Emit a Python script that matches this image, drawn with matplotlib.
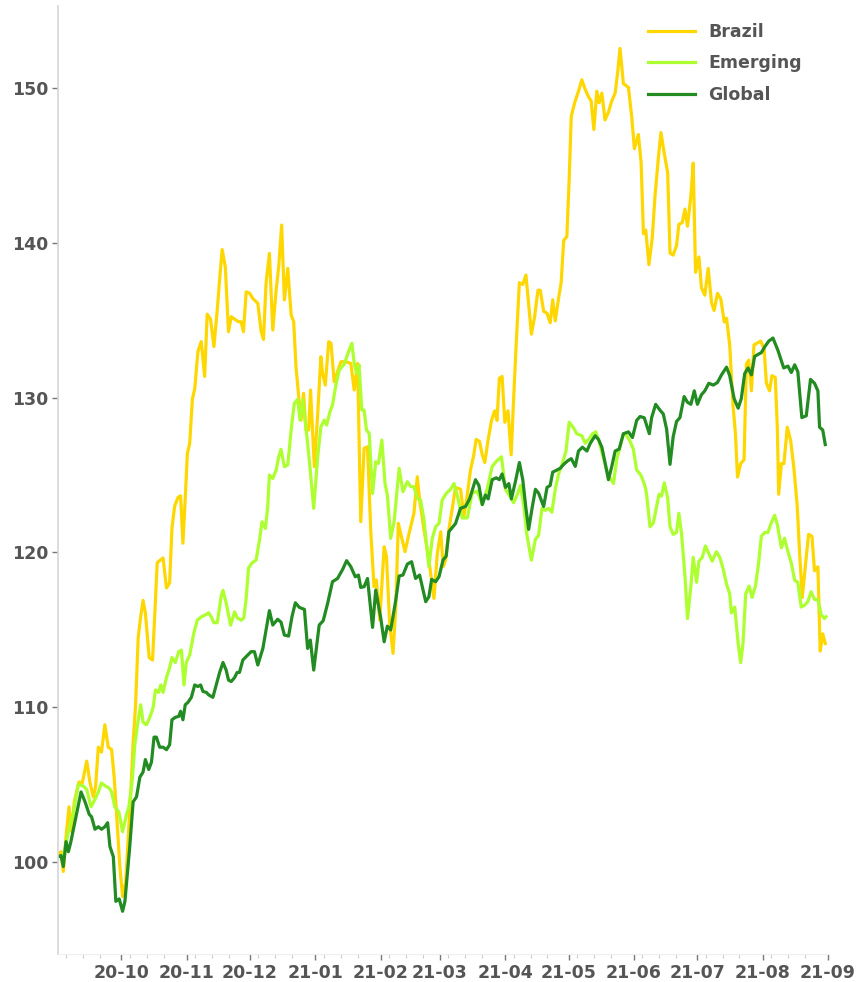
import pandas as pd
import matplotlib
matplotlib.use("Agg")
from matplotlib import pyplot as plt
import matplotlib.dates as mdates

start = pd.Timestamp("2020-09-01")

# days since start / index value (start = 100)
global_days = [0.2, 1.4, 2.5, 3.8, 4.9, 6.1, 8.0, 10.9, 12.8, 14.8, 15.9, 17.5, 19.1, 20.6, 22.2, 23.5,
               24.6, 26.2, 27.4, 29.0, 30.6, 31.7, 34.0, 35.6, 37.2, 38.8, 40.3, 41.4, 43.0, 44.3, 45.5,
               46.6, 48.2, 49.8, 51.4, 52.9, 54.0, 55.6, 57.2, 58.1, 59.2, 60.3, 61.6, 63.2, 64.8, 66.3,
               67.6, 68.7, 70.3, 71.4, 73.4, 75.0, 76.6, 78.2, 79.7, 80.8, 82.1, 83.7, 84.9, 86.0, 87.6,
               89.2, 91.5, 93.1, 94.7, 97.1, 98.6, 100.2, 101.8, 104.1, 105.7, 107.3, 109.3, 110.9, 112.5,
               114.4, 116.8, 118.3, 119.6, 121.2, 123.8, 125.7, 127.8, 130.1, 132.5, 134.9, 136.8, 138.8,
               140.9, 142.4, 143.5, 145.1, 146.7, 149.1, 150.6, 153.0, 154.6, 156.1, 157.7, 160.1, 161.7,
               163.5, 165.6, 167.6, 169.5, 171.4, 174.3, 175.8, 177.1, 179.0, 180.6, 182.5, 184.0, 185.3,
               188.4, 190.8, 193.2, 195.1, 197.9, 199.5, 201.1, 202.6, 203.9, 205.8, 207.7, 209.2, 210.5,
               212.1, 213.7, 214.9, 216.8, 218.7, 220.3, 221.8, 223.1, 224.7, 226.3, 227.8, 230.2, 231.8,
               233.3, 234.5, 235.7, 238.1, 239.7, 241.7, 243.3, 245.2, 246.7, 248.6, 250.7, 252.3, 254.6,
               256.2, 257.8, 259.3, 260.9, 262.5, 264.1, 266.0, 268.0, 270.4, 272.3, 274.3, 275.9, 277.9,
               280.3, 281.4, 283.3, 285.3, 286.9, 288.5, 290.1, 291.6, 293.2, 294.8, 296.8, 298.4, 300.0,
               301.6, 303.1, 305.0, 306.6, 308.5, 310.6, 312.6, 314.5, 316.9, 318.4, 320.5, 322.4, 323.9,
               325.5, 327.1, 328.7, 330.2, 331.8, 333.4, 335.0, 336.9, 338.9, 341.3, 344.0, 346.0, 347.6,
               349.2, 350.7, 352.6, 354.7, 356.7, 358.6, 360.2, 361.0, 362.5, 363.7]
global_vals = [100.35, 100.42, 99.71, 101.32, 100.67, 101.32, 102.6, 104.53, 103.89, 103.08, 102.92, 102.12,
               102.28, 102.12, 102.28, 102.54, 101.0, 100.35, 97.46, 97.62, 96.82, 97.46, 101.0, 103.89,
               104.21, 105.49, 105.81, 106.62, 105.98, 106.46, 108.07, 108.07, 107.42, 107.42, 107.26,
               107.58, 109.19, 109.35, 109.41, 109.74, 109.19, 110.16, 110.32, 110.64, 111.44, 111.34,
               111.44, 111.02, 110.96, 110.8, 110.64, 111.44, 112.25, 112.89, 112.4, 111.76, 111.66,
               111.92, 112.25, 112.25, 113.05, 113.27, 113.59, 113.59, 112.73, 113.8, 114.99, 116.24,
               115.31, 115.68, 115.5, 114.66, 114.6, 115.85, 116.75, 116.45, 116.32, 113.8, 114.34, 112.4,
               115.31, 115.59, 116.71, 118.11, 118.32, 118.9, 119.47, 119.08, 118.43, 118.54, 117.74,
               117.79, 118.32, 115.16, 117.57, 115.74, 114.23, 115.24, 114.99, 116.92, 118.48, 118.54,
               119.25, 119.4, 118.32, 118.54, 116.82, 117.14, 118.26, 118.11, 118.43, 119.51, 119.76,
               121.35, 121.86, 122.85, 122.97, 123.46, 124.7, 124.33, 123.09, 123.71, 123.46, 124.7,
               124.82, 124.7, 125.07, 124.2, 124.45, 123.46, 124.57, 125.81, 124.7, 122.85, 121.49,
               122.85, 124.08, 123.83, 122.97, 124.2, 124.33, 125.19, 125.27, 125.44, 125.69, 125.93,
               126.06, 125.56, 126.55, 126.8, 126.55, 127.05, 127.54, 127.3, 126.8, 125.81, 124.7, 125.56,
               126.55, 126.68, 127.67, 127.79, 127.42, 128.53, 128.78, 128.7, 127.67, 128.71, 129.57,
               129.2, 128.95, 127.96, 125.69, 127.47, 128.46, 128.71, 130.07, 129.7, 129.57, 130.44,
               129.57, 130.19, 130.44, 130.93, 130.81, 130.98, 131.47, 131.97, 131.42, 129.94, 129.32,
               129.94, 131.55, 131.92, 131.47, 132.66, 132.79, 132.91, 133.28, 133.65, 133.85, 133.04,
               131.92, 132.04, 131.62, 132.12, 131.67, 128.71, 128.83, 131.18, 130.93, 130.44, 128.09,
               127.91, 126.97]

emerging_days = [0.2, 2.5, 4.9, 7.3, 9.6, 12.0, 13.6, 15.6, 17.5, 19.1, 20.6, 22.5, 24.1, 25.4, 26.9, 28.8,
                 30.6, 32.5, 33.6, 35.1, 36.4, 38.0, 39.2, 40.3, 41.9, 43.5, 45.1, 46.2, 47.7, 48.7, 49.8,
                 51.4, 52.9, 54.0, 55.6, 57.2, 58.5, 59.7, 60.8, 62.4, 64.4, 66.0, 67.9, 69.5, 71.4, 72.6,
                 73.9, 75.5, 77.4, 78.2, 79.7, 81.8, 83.7, 84.9, 86.8, 88.1, 89.2, 90.3, 91.9, 93.9, 95.5,
                 96.7, 98.3, 99.4, 100.2, 101.8, 103.4, 104.6, 105.7, 107.3, 108.9, 110.5, 112.0, 113.6,
                 114.7, 116.0, 117.5, 119.4, 121.2, 123.1, 124.6, 126.2, 127.3, 128.9, 130.1, 131.7, 133.3,
                 135.7, 137.7, 139.3, 140.4, 141.5, 142.7, 144.0, 145.1, 146.2, 147.5, 149.1, 150.6, 151.9,
                 153.5, 155.0, 156.1, 157.7, 159.3, 161.7, 163.5, 165.6, 167.2, 168.7, 170.3, 171.9, 173.5,
                 175.8, 177.4, 179.0, 180.6, 182.1, 184.0, 186.1, 187.7, 189.2, 191.6, 194.0, 196.3, 198.7,
                 201.1, 203.4, 205.8, 208.1, 210.2, 212.1, 214.4, 216.0, 217.6, 219.2, 220.7, 222.3, 224.4,
                 226.3, 227.8, 229.4, 231.0, 232.6, 234.1, 235.7, 237.3, 239.2, 240.8, 242.3, 244.4, 245.9,
                 248.3, 249.9, 251.5, 253.4, 254.9, 256.5, 258.1, 260.1, 261.7, 263.3, 264.9, 266.4, 268.0,
                 269.6, 271.2, 272.7, 274.3, 275.9, 276.7, 278.3, 279.0, 280.6, 282.2, 283.8, 284.9, 286.1,
                 287.4, 289.0, 290.1, 291.6, 293.2, 294.3, 295.6, 297.2, 298.4, 300.0, 301.1, 302.7, 303.8,
                 305.4, 306.9, 308.5, 310.1, 312.1, 313.7, 315.3, 316.9, 318.4, 319.2, 320.8, 322.4, 323.6,
                 324.7, 326.0, 327.6, 329.0, 330.6, 332.1, 333.4, 335.0, 336.5, 338.1, 339.7, 341.0, 342.9,
                 344.4, 346.0, 347.6, 349.2, 350.7, 352.3, 353.9, 355.5, 357.0, 358.6, 360.2, 361.8, 363.3,
                 364.1]
emerging_vals = [100.35, 100.35, 101.96, 103.24, 105.01, 104.91, 104.69, 103.57, 104.05, 104.53, 105.11,
                 104.91, 104.79, 104.53, 103.57, 103.24, 101.96, 103.08, 103.57, 105.17, 107.58, 109.19,
                 110.16, 109.03, 108.87, 109.35, 109.99, 111.12, 110.96, 111.44, 110.96, 111.92, 112.56,
                 113.21, 112.89, 113.59, 113.69, 111.44, 112.89, 113.37, 114.81, 115.62, 115.84, 115.94,
                 116.1, 115.84, 115.46, 115.46, 117.23, 117.55, 116.74, 115.3, 116.16, 115.78, 115.62,
                 115.78, 117.07, 118.99, 119.32, 119.51, 120.8, 121.98, 121.55, 122.95, 125.0, 124.78,
                 125.32, 126.18, 126.66, 125.54, 125.65, 127.91, 129.63, 129.89, 128.55, 129.85, 128.12,
                 125.54, 122.85, 126.18, 128.12, 128.55, 128.23, 129.09, 129.52, 130.81, 131.78, 132.17,
                 132.97, 133.51, 132.21, 131.57, 132.11, 129.2, 129.2, 127.91, 127.69, 123.81, 125.86,
                 125.75, 127.26, 124.46, 123.71, 120.91, 121.98, 125.43, 123.92, 124.57, 124.25, 124.25,
                 123.49, 123.38, 122.09, 119.08, 120.91, 121.66, 121.88, 123.38, 123.81, 124.08, 124.45,
                 123.71, 122.23, 122.23, 123.83, 123.96, 123.09, 124.08, 125.56, 125.93, 126.18, 124.08,
                 123.59, 123.21, 123.71, 124.33, 123.09, 121.11, 119.5, 120.86, 121.11, 122.85, 122.72,
                 122.85, 122.6, 124.08, 125.07, 125.81, 126.55, 128.41, 128.04, 127.67, 127.54, 127.05,
                 127.3, 127.67, 127.79, 127.17, 126.31, 125.32, 124.82, 124.45, 126.06, 126.8, 127.67,
                 127.54, 127.17, 126.68, 125.32, 125.07, 124.87, 124.26, 123.76, 121.66, 121.91, 123.02,
                 123.76, 123.64, 124.5, 123.51, 121.66, 121.17, 121.29, 122.53, 121.17, 118.45, 115.73,
                 117.83, 119.68, 118.07, 119.44, 119.68, 120.42, 119.93, 119.44, 120.05, 119.68, 118.94,
                 117.95, 117.33, 116.09, 116.47, 114.12, 112.88, 114.12, 117.33, 117.83, 117.09, 117.83,
                 119.31, 121.04, 121.29, 121.29, 121.91, 122.4, 121.78, 120.3, 120.92, 120.05, 119.31,
                 118.2, 118.07, 116.47, 116.59, 116.84, 117.46, 116.96, 116.96, 115.97, 115.73, 115.85]

brazil_days = [0.2, 1.4, 2.5, 3.8, 5.2, 6.5, 7.7, 8.8, 9.9, 11.5, 13.6, 15.1, 16.7, 17.8, 19.1, 20.6, 22.2,
               23.8, 25.4, 26.6, 27.7, 29.3, 30.6, 32.1, 33.3, 34.5, 35.6, 36.7, 38.0, 39.1, 40.3, 41.4,
               43.2, 44.8, 45.9, 47.0, 48.2, 49.8, 51.4, 52.9, 54.0, 55.3, 56.9, 58.1, 59.2, 60.3, 61.3,
               62.4, 63.7, 64.8, 66.3, 67.9, 69.5, 70.7, 72.3, 73.9, 75.5, 76.6, 77.8, 79.3, 80.8, 82.1,
               83.7, 85.6, 86.8, 87.9, 89.2, 90.8, 92.3, 94.7, 96.3, 97.4, 98.6, 100.2, 101.8, 103.4, 104.6,
               106.0, 107.3, 108.9, 110.5, 111.7, 112.8, 114.1, 115.2, 116.4, 117.5, 118.8, 119.7, 121.5,
               123.1, 124.6, 125.4, 126.7, 128.3, 129.4, 130.9, 132.5, 134.1, 136.4, 138.8, 140.4, 142.0,
               143.5, 145.1, 146.7, 148.3, 149.8, 150.9, 152.5, 154.6, 155.7, 157.2, 158.8, 160.1, 161.3,
               162.4, 164.5, 166.4, 168.7, 170.3, 171.4, 173.5, 175.8, 178.2, 179.8, 181.4, 182.6, 183.7,
               185.3, 186.9, 188.4, 190.8, 192.4, 194.0, 195.5, 197.1, 198.2, 199.8, 201.1, 202.3, 203.9,
               205.5, 207.0, 208.1, 209.2, 210.5, 211.8, 213.3, 214.8, 216.0, 217.1, 218.7, 220.3, 221.8,
               222.8, 224.4, 225.9, 227.5, 228.6, 230.2, 231.8, 233.3, 234.5, 235.7, 237.3, 238.5, 239.7,
               241.2, 242.3, 243.3, 244.9, 246.7, 248.3, 249.9, 251.5, 252.7, 254.0, 255.4, 256.5, 257.8,
               259.3, 260.9, 262.5, 264.1, 265.3, 266.4, 268.0, 270.4, 272.0, 273.2, 275.1, 276.4, 277.5,
               278.6, 280.1, 281.7, 283.0, 284.6, 285.8, 287.4, 289.0, 290.1, 291.6, 293.2, 294.3, 295.9,
               297.2, 298.4, 300.0, 301.1, 302.2, 303.8, 305.0, 306.6, 308.2, 309.8, 311.0, 312.6, 314.2,
               315.8, 316.9, 318.4, 320.0, 321.1, 322.1, 323.6, 325.2, 326.3, 327.4, 328.7, 329.9, 331.5,
               333.1, 334.7, 335.8, 337.3, 338.4, 340.0, 341.0, 341.6, 342.9, 344.1, 345.7, 347.3, 348.8,
               350.4, 351.5, 352.8, 354.4, 355.8, 357.4, 358.6, 360.2, 361.3, 362.5, 363.7]
brazil_vals = [100.51, 100.67, 99.39, 101.64, 103.57, 101.96, 103.89, 104.53, 105.17, 105.11, 106.52, 105.17,
               104.21, 104.85, 107.42, 107.1, 108.87, 107.42, 107.26, 105.49, 103.24, 99.71, 97.78, 98.74,
               101.64, 104.53, 107.74, 109.99, 114.49, 115.78, 116.9, 116.1, 113.21, 113.05, 116.1, 119.32,
               119.48, 119.64, 117.71, 118.03, 121.57, 123.01, 123.56, 123.66, 120.6, 123.5, 126.39,
               127.03, 129.92, 130.57, 132.97, 133.62, 131.37, 135.39, 135.07, 133.3, 135.71, 137.64,
               139.57, 138.44, 134.26, 135.23, 135.07, 134.9, 134.9, 134.26, 136.83, 136.75, 136.41,
               136.09, 134.26, 133.76, 137.38, 139.32, 134.37, 136.95, 138.46, 141.15, 136.31, 138.35,
               135.34, 134.91, 132.0, 130.06, 128.55, 130.28, 127.91, 127.91, 130.49, 125.54, 128.98,
               132.64, 131.57, 130.81, 133.61, 133.51, 131.03, 131.67, 132.32, 132.32, 132.21, 130.49,
               132.21, 121.99, 126.72, 126.83, 121.23, 117.79, 118.22, 115.63, 120.37, 119.73, 115.42,
               113.48, 116.49, 121.88, 121.23, 120.05, 121.23, 122.52, 124.89, 123.38, 121.45, 119.51,
               117.03, 119.94, 121.34, 119.08, 119.51, 121.5, 122.85, 124.2, 124.08, 122.35, 123.71,
               125.32, 126.31, 127.3, 127.17, 126.31, 125.81, 127.3, 128.53, 129.15, 128.53, 131.25,
               131.37, 128.41, 129.15, 126.31, 130.01, 133.23, 137.43, 137.31, 137.92, 136.44, 134.1,
               135.21, 136.94, 136.94, 135.58, 135.45, 134.83, 136.32, 134.96, 136.44, 137.43, 140.15,
               140.4, 144.11, 148.18, 149.05, 149.79, 150.53, 149.91, 149.42, 149.17, 147.32, 149.79,
               149.05, 149.67, 147.94, 148.43, 149.17, 149.67, 151.03, 152.56, 150.29, 150.04, 148.06,
               146.08, 147.0, 145.2, 140.6, 140.82, 138.59, 140.33, 143.04, 145.52, 147.12, 145.76, 144.53,
               139.34, 139.21, 139.83, 141.19, 141.31, 142.18, 141.07, 143.04, 145.15, 138.1, 139.09,
               137.11, 136.62, 138.35, 136.12, 135.63, 136.74, 136.37, 134.89, 135.13, 133.4, 129.45,
               127.72, 124.87, 125.74, 125.99, 132.17, 132.42, 130.44, 133.4, 133.53, 133.65, 133.16,
               130.93, 130.44, 131.42, 131.3, 127.96, 123.76, 125.74, 125.74, 128.09, 127.22, 125.49,
               123.02, 120.05, 117.09, 119.31, 121.17, 121.04, 118.82, 119.07, 113.63, 114.74, 114.12]

series = [("Brazil", brazil_days, brazil_vals, "#FFD700"),
          ("Emerging", emerging_days, emerging_vals, "#ADFF2F"),
          ("Global", global_days, global_vals, "#228B22")]

text_col = "#555555"
plt.rcParams["font.family"] = ["DejaVu Sans"]

fig = plt.figure(figsize=(8.56, 9.82), dpi=100)
ax = fig.add_axes([0.0678, 0.0285, 0.8995, 0.9654])

for name, days, vals, col in series:
    dates = start + pd.to_timedelta(days, unit="D")
    ax.plot(dates, vals, color=col, lw=2.3, label=name, solid_joinstyle="round")

ax.set_xlim(start, pd.Timestamp("2021-09-01"))
ax.set_ylim(94.06, 155.3)

# month ticks from Oct-20 on, the Sep-20 start has no tick
ax.set_xticks(pd.date_range("2020-10-01", "2021-09-01", freq="MS"))
ax.xaxis.set_major_formatter(mdates.DateFormatter("%y-%m"))
ax.xaxis.set_minor_locator(mdates.DayLocator(bymonthday=[5, 13, 21]))
ax.set_yticks([100, 110, 120, 130, 140, 150])

for s in ["top", "right"]:
    ax.spines[s].set_visible(False)
ax.spines["left"].set_color("#d6d6d6")
ax.spines["bottom"].set_color("#efefef")
ax.spines["left"].set_linewidth(1.2)

ax.tick_params(axis="both", which="major", length=4, width=1, color="#777777",
               labelcolor=text_col, labelsize=12.5, pad=3)
ax.tick_params(axis="x", which="minor", length=3, width=0.8, color="#cccccc")
for lab in ax.get_xticklabels() + ax.get_yticklabels():
    lab.set_fontweight("bold")

leg = ax.legend(loc="upper left", bbox_to_anchor=(0.757, 0.977), bbox_transform=fig.transFigure,
                frameon=False, fontsize=12.5, handlelength=2.7, handletextpad=0.75,
                labelspacing=0.78, borderpad=0, borderaxespad=0)
for t in leg.get_texts():
    t.set_color(text_col)
    t.set_fontweight("bold")

fig.savefig("out.png", dpi=100)
